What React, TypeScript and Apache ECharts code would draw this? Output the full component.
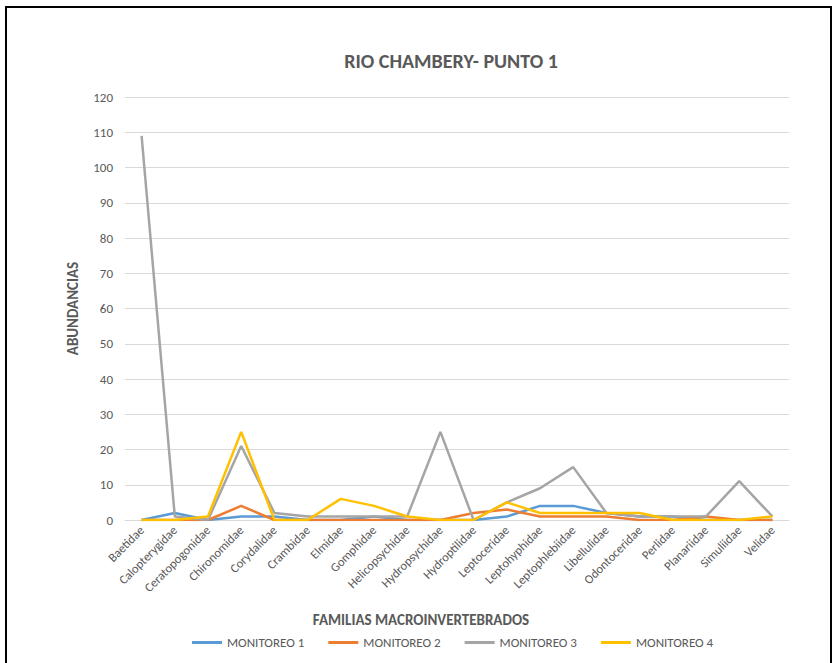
import React, { useEffect, useRef } from "react";
import * as echarts from "echarts";

const categories = [
  "Baetidae", "Calopterygidae", "Ceratopogonidae", "Chironomidae", "Corydalidae",
  "Crambidae", "Elmidae", "Gomphidae", "Helicopsychidae", "Hydropsychidae",
  "Hydroptilidae", "Leptoceridae", "Leptohyphidae", "Leptophlebiidae", "Libellulidae",
  "Odontoceridae", "Perlidae", "Planariidae", "Simuliidae", "Velidae",
];
const monitoreo1 = [0, 2, 0, 1, 1, 0, 0, 1, 0, 0, 0, 1, 4, 4, 2, 1, 1, 0, 0, 0];
const monitoreo2 = [0, 0, 0, 4, 0, 0, 0, 0, 0, 0, 2, 3, 1, 1, 1, 0, 0, 1, 0, 0];
const monitoreo3 = [109, 1, 0, 21, 2, 1, 1, 1, 1, 25, 0, 5, 9, 15, 2, 1, 1, 1, 11, 1];
const monitoreo4 = [0, 0, 1, 25, 0, 0, 6, 4, 1, 0, 0, 5, 2, 2, 2, 2, 0, 0, 0, 1];
const seriesNames = ["MONITOREO 1", "MONITOREO 2", "MONITOREO 3", "MONITOREO 4"];
const colors = ["#5B9BD5", "#ED7D31", "#A5A5A5", "#FFC000"];

const FONT = "Carlito, 'Liberation Sans Narrow', 'Open Sans', sans-serif";

export default function App() {
  const ref = useRef<HTMLDivElement>(null);
  useEffect(() => {
    if (!ref.current) return;
    const chart = echarts.init(ref.current, null, { renderer: "svg" });
    const data = [monitoreo1, monitoreo2, monitoreo3, monitoreo4];
    chart.setOption({
      animation: false,
      textStyle: { fontFamily: FONT },
      title: {
        text: "RIO CHAMBERY- PUNTO 1",
        left: 446,
        top: 46,
        textAlign: "center",
        textStyle: { fontFamily: FONT, fontSize: 20, fontWeight: "bold", color: "#595959" },
      },
      graphic: [
        {
          type: "rect",
          shape: { x: 6, y: 7, width: 825, height: 680 },
          style: { fill: "none", stroke: "#000", lineWidth: 2 },
          silent: true,
        },
      ],
      legend: {
        data: seriesNames,
        bottom: 9,
        left: 187,
        itemWidth: 30,
        itemHeight: 3,
        itemGap: 24,
        icon: "rect",
        textStyle: { fontFamily: FONT, fontSize: 13, color: "#595959" },
      },
      grid: { left: 125, right: 51, top: 97, bottom: 143, containLabel: false },
      xAxis: {
        type: "category",
        data: categories,
        boundaryGap: true,
        name: "FAMILIAS MACROINVERTEBRADOS",
        nameLocation: "middle",
        nameGap: 92,
        nameTextStyle: { fontFamily: FONT, fontSize: 15, fontWeight: "bold", color: "#595959", padding: [0, 72, 0, 0] },
        axisLine: { show: true, lineStyle: { color: "#D9D9D9", width: 1 } },
        axisTick: { show: false },
        axisLabel: { rotate: 45, interval: 0, fontSize: 12.5, color: "#595959", fontFamily: FONT, margin: 8 },
      },
      yAxis: {
        type: "value",
        min: 0,
        max: 120,
        interval: 10,
        name: "ABUNDANCIAS",
        nameLocation: "middle",
        nameGap: 45,
        nameTextStyle: { fontFamily: FONT, fontSize: 15, fontWeight: "bold", color: "#595959" },
        axisLine: { show: false },
        axisTick: { show: false },
        axisLabel: { fontSize: 13, color: "#595959", fontFamily: FONT, margin: 12 },
        splitLine: { lineStyle: { color: "#D9D9D9", width: 1 } },
      },
      series: seriesNames.map((n, i) => ({
        name: n,
        type: "line",
        data: data[i],
        symbol: "none",
        lineStyle: { color: colors[i], width: 2.5 },
        itemStyle: { color: colors[i] },
      })),
    });
    return () => chart.dispose();
  }, []);
  return (
    <div
      ref={ref}
      style={{ position: "absolute", left: 0, top: 0, width: 840, height: 663, background: "#fff" }}
    />
  );
}
